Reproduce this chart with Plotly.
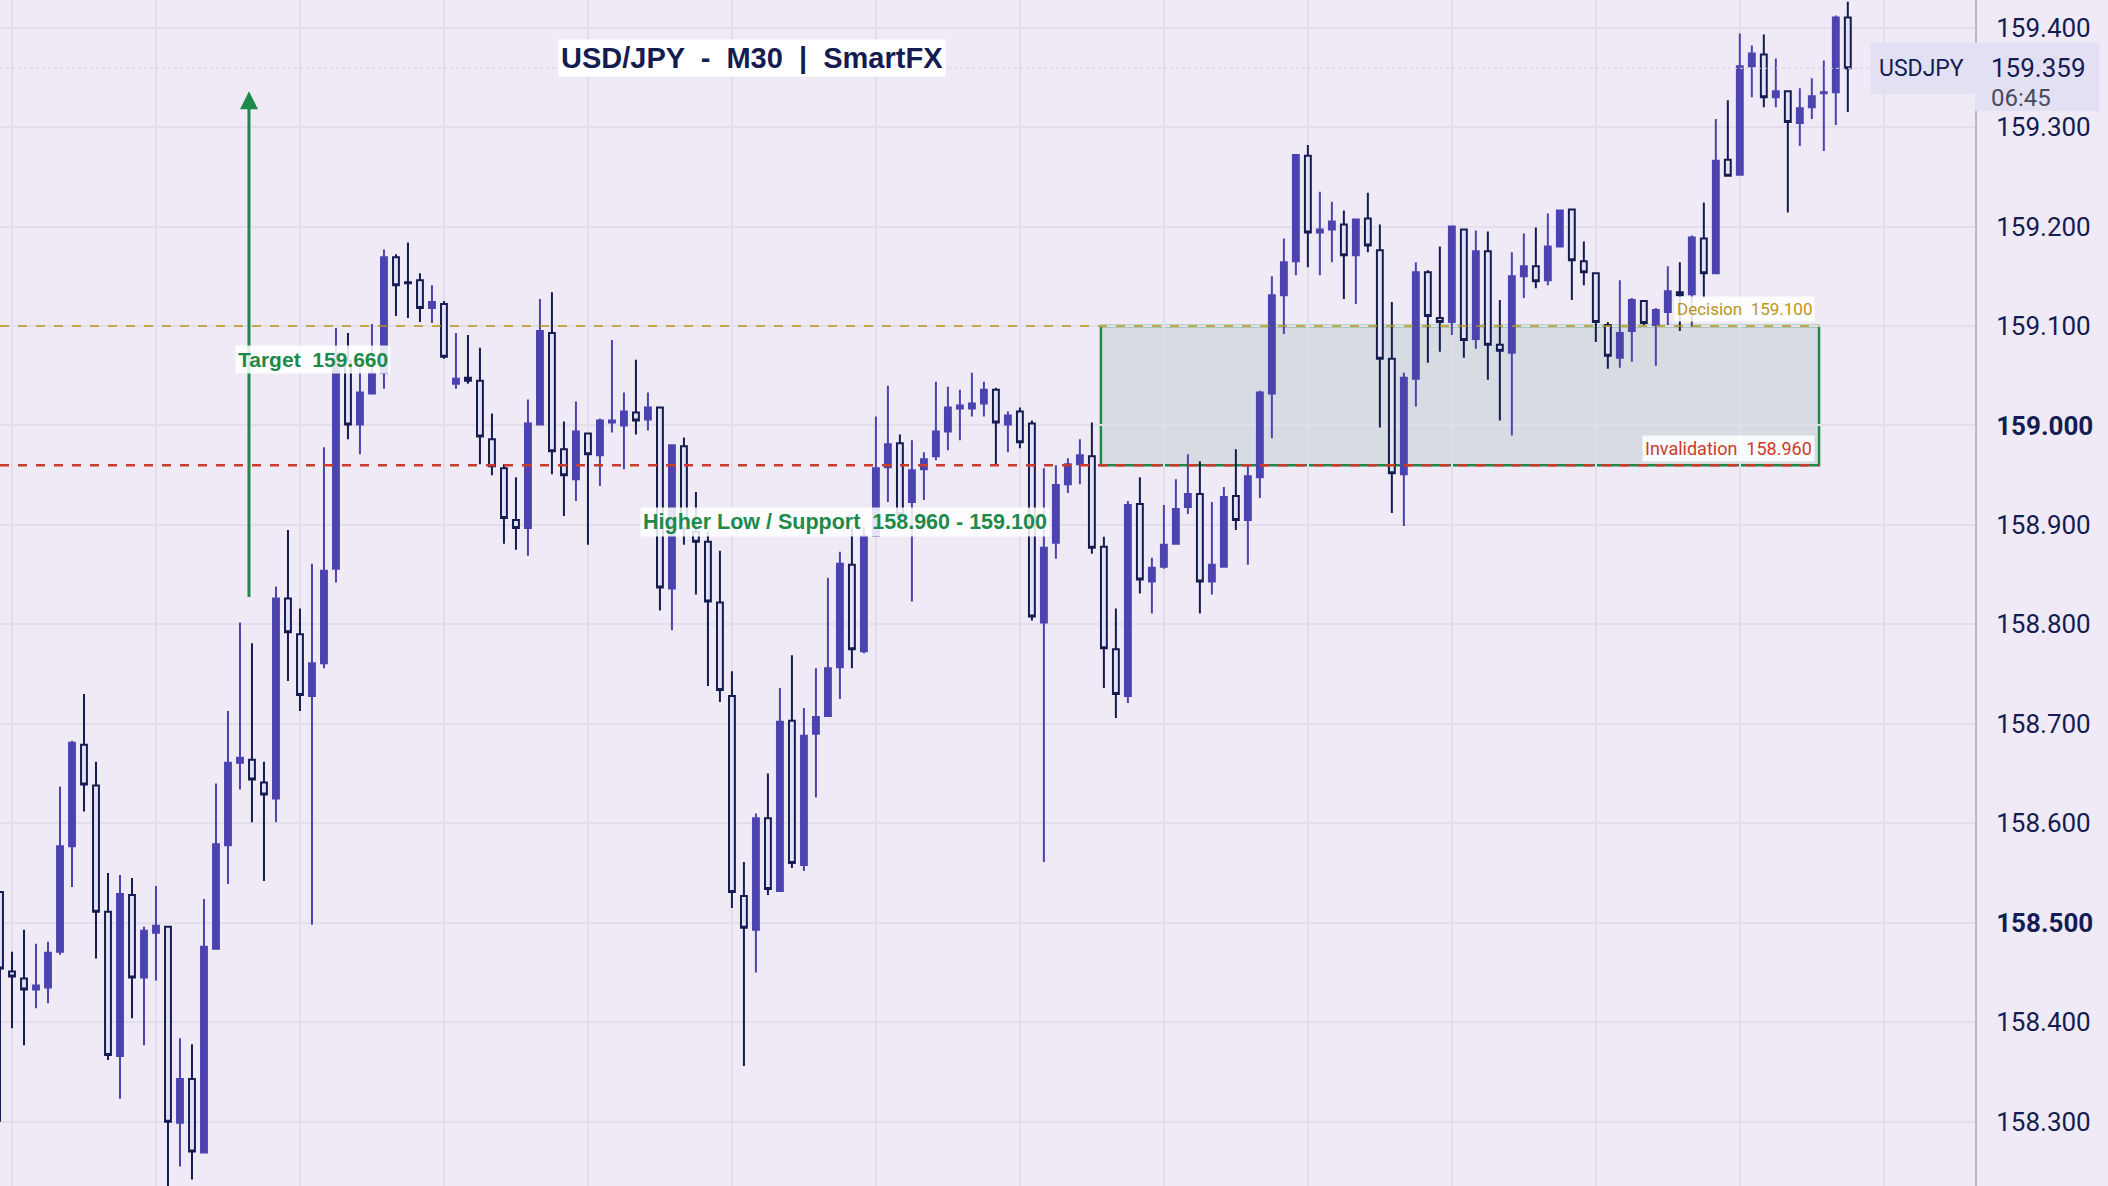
import plotly.graph_objects as go

# USD/JPY M30 candles (oldest first)
opens = [158.531, 158.451, 158.444, 158.433, 158.435, 158.471, 158.577, 158.679, 158.638, 158.511,
         158.366, 158.528, 158.445, 158.490, 158.496, 158.299, 158.343, 158.269, 158.474, 158.578,
         158.661, 158.664, 158.641, 158.625, 158.826, 158.790, 158.728, 158.761, 158.856, 159.065,
         159.001, 159.032, 159.053, 159.169, 159.144, 159.146, 159.118, 159.122, 159.042, 159.048,
         159.045, 158.986, 158.957, 158.905, 158.897, 159.001, 159.093, 158.976, 158.946, 158.992,
         158.970, 159.003, 159.000, 159.013, 159.006, 159.018, 158.836, 158.979, 158.893, 158.883,
         158.822, 158.728, 158.527, 158.493, 158.605, 158.532, 158.703, 158.558, 158.690, 158.708,
         158.757, 158.860, 158.773, 158.889, 158.958, 158.982, 158.923, 158.956, 158.969, 158.994,
         159.017, 159.017, 159.022, 159.036, 159.001, 159.014, 159.002, 158.802, 158.882, 158.941,
         158.961, 158.969, 158.878, 158.775, 158.728, 158.921, 158.843, 158.858, 158.881, 158.918,
         158.931, 158.843, 158.858, 158.929, 158.905, 158.948, 159.032, 159.131, 159.165, 159.271,
         159.194, 159.197, 159.202, 159.171, 159.208, 159.176, 159.067, 158.951, 159.047, 159.154,
         159.108, 159.104, 159.197, 159.087, 159.175, 159.081, 159.073, 159.150, 159.160, 159.146,
         159.180, 159.217, 159.165, 159.153, 159.101, 159.068, 159.095, 159.125, 159.101, 159.114,
         159.134, 159.132, 159.188, 159.153, 159.267, 159.252, 159.361, 159.373, 159.330, 159.336,
         159.304, 159.320, 159.334, 159.335, 159.410]
highs = [158.531, 158.471, 158.493, 158.479, 158.481, 158.637, 158.683, 158.730, 158.662, 158.550,
         158.548, 158.545, 158.496, 158.537, 158.497, 158.384, 158.378, 158.524, 158.640, 158.713,
         158.802, 158.781, 158.662, 158.838, 158.895, 158.816, 158.861, 158.978, 159.098, 159.093,
         159.058, 159.102, 159.177, 159.172, 159.184, 159.153, 159.141, 159.125, 159.093, 159.091,
         159.078, 159.012, 158.961, 158.948, 159.026, 159.127, 159.134, 159.004, 159.024, 158.992,
         159.007, 159.086, 159.033, 159.066, 159.033, 159.019, 158.981, 158.988, 158.933, 158.893,
         158.874, 158.753, 158.561, 158.610, 158.650, 158.736, 158.769, 158.716, 158.756, 158.847,
         158.873, 158.898, 158.898, 159.009, 159.040, 158.991, 158.985, 158.973, 159.044, 159.039,
         159.036, 159.053, 159.044, 159.038, 159.014, 159.018, 159.005, 158.957, 158.960, 158.967,
         158.986, 159.003, 158.888, 158.816, 158.924, 158.948, 158.867, 158.920, 158.946, 158.971,
         158.964, 158.923, 158.938, 158.976, 158.961, 159.035, 159.150, 159.188, 159.272, 159.282,
         159.235, 159.225, 159.216, 159.207, 159.234, 159.202, 159.124, 159.053, 159.164, 159.156,
         159.180, 159.201, 159.197, 159.196, 159.195, 159.126, 159.174, 159.193, 159.199, 159.213,
         159.217, 159.217, 159.185, 159.153, 159.104, 159.146, 159.128, 159.125, 159.118, 159.160,
         159.164, 159.191, 159.224, 159.308, 159.327, 159.394, 159.382, 159.393, 159.369, 159.337,
         159.339, 159.349, 159.367, 159.412, 159.426]
lows = [158.300, 158.394, 158.377, 158.414, 158.419, 158.468, 158.536, 158.612, 158.464, 158.362,
        158.323, 158.404, 158.377, 158.442, 158.230, 158.255, 158.242, 158.269, 158.474, 158.539,
        158.634, 158.601, 158.542, 158.601, 158.743, 158.713, 158.498, 158.756, 158.842, 158.986,
        158.971, 159.032, 159.037, 159.110, 159.108, 159.104, 159.103, 159.067, 159.037, 159.042,
        158.961, 158.950, 158.881, 158.875, 158.869, 159.001, 158.951, 158.909, 158.924, 158.880,
        158.939, 158.993, 158.956, 158.991, 158.995, 158.814, 158.794, 158.880, 158.830, 158.738,
        158.722, 158.515, 158.356, 158.450, 158.528, 158.532, 158.555, 158.552, 158.626, 158.708,
        158.725, 158.756, 158.771, 158.889, 158.923, 158.911, 158.823, 158.925, 158.965, 158.975,
        158.985, 159.009, 159.009, 158.961, 158.973, 158.977, 158.804, 158.561, 158.866, 158.932,
        158.941, 158.871, 158.736, 158.706, 158.721, 158.831, 158.811, 158.856, 158.881, 158.911,
        158.811, 158.830, 158.858, 158.895, 158.860, 158.927, 158.987, 159.092, 159.151, 159.159,
        159.151, 159.164, 159.127, 159.122, 159.174, 158.998, 158.912, 158.899, 159.019, 159.063,
        159.074, 159.091, 159.068, 159.077, 159.046, 159.005, 158.990, 159.128, 159.138, 159.141,
        159.180, 159.126, 159.141, 159.084, 159.057, 159.058, 159.064, 159.101, 159.060, 159.101,
        159.095, 159.099, 159.128, 159.153, 159.250, 159.252, 159.330, 159.320, 159.320, 159.214,
        159.281, 159.308, 159.276, 159.302, 159.315]
closes = [158.454, 158.446, 158.433, 158.437, 158.470, 158.577, 158.681, 158.639, 158.511, 158.367,
          158.529, 158.445, 158.492, 158.497, 158.300, 158.343, 158.270, 158.476, 158.579, 158.661,
          158.666, 158.644, 158.629, 158.826, 158.792, 158.729, 158.761, 158.854, 159.072, 159.001,
          159.033, 159.053, 159.169, 159.141, 159.143, 159.118, 159.124, 159.069, 159.047, 159.045,
          158.989, 158.959, 158.907, 158.897, 159.002, 159.095, 158.974, 158.950, 158.994, 158.971,
          159.005, 159.005, 159.014, 159.005, 159.018, 158.837, 158.980, 158.896, 158.883, 158.823,
          158.734, 158.531, 158.495, 158.605, 158.534, 158.702, 158.560, 158.688, 158.707, 158.756,
          158.861, 158.775, 158.889, 158.957, 158.981, 158.911, 158.955, 158.966, 158.994, 159.018,
          159.020, 159.022, 159.036, 159.003, 159.010, 158.983, 158.808, 158.877, 158.940, 158.961,
          158.970, 158.877, 158.776, 158.730, 158.920, 158.845, 158.857, 158.880, 158.916, 158.931,
          158.843, 158.860, 158.928, 158.905, 158.949, 159.033, 159.131, 159.164, 159.272, 159.194,
          159.197, 159.205, 159.171, 159.207, 159.181, 159.067, 158.952, 159.048, 159.154, 159.110,
          159.104, 159.200, 159.086, 159.175, 159.081, 159.075, 159.150, 159.160, 159.145, 159.180,
          159.216, 159.166, 159.154, 159.104, 159.070, 159.093, 159.126, 159.103, 159.116, 159.135,
          159.131, 159.189, 159.153, 159.266, 159.251, 159.361, 159.374, 159.330, 159.336, 159.305,
          159.319, 159.331, 159.335, 159.410, 159.359]
bars = list(range(len(opens)))

decision = 159.100
invalidation = 158.960
target = 159.660
last_price = 159.359
countdown = "06:45"

tick_vals = [158.3, 158.4, 158.5, 158.6, 158.7, 158.8, 158.9, 159.0, 159.1, 159.2, 159.3, 159.4]
tick_text = ["158.300", "158.400", "<b>158.500</b>", "158.600", "158.700", "158.800", "158.900",
             "<b>159.000</b>", "159.100", "159.200", "159.300", "159.400"]

bg = "#efeaf5"
grid = "#e2deea"
navy = "#141c52"
purple = "#4b43b0"
green = "#1e8a4a"
gold = "#b8961a"
red = "#cc3a2b"

zone_x0, zone_x1 = 91.75, 151.6
arrow_x = 20.75

fig = go.Figure()
fig.add_trace(go.Candlestick(
    x=bars, open=opens, high=highs, low=lows, close=closes,
    increasing=dict(line=dict(color=purple, width=2), fillcolor=purple),
    decreasing=dict(line=dict(color=navy, width=2), fillcolor="#e4e2f6"),
    whiskerwidth=0, showlegend=False, hoverinfo="skip",
))

# zone and levels
fig.add_shape(type="rect", x0=zone_x0, x1=zone_x1, y0=invalidation, y1=decision,
              fillcolor="rgba(30,120,90,0.12)", line=dict(color=green, width=2.5), layer="below")
fig.add_shape(type="line", x0=0, x1=zone_x1, y0=decision, y1=decision,
              line=dict(color=gold, width=1.5, dash="dash"))
fig.add_shape(type="line", x0=0, x1=zone_x1, y0=invalidation, y1=invalidation,
              line=dict(color=red, width=2.5, dash="dash"))
fig.add_shape(type="line", x0=0, x1=165, y0=last_price, y1=last_price,
              line=dict(color="#d6d0e4", width=1, dash="dot"))

# target arrow
fig.add_annotation(x=arrow_x, y=159.336, ax=arrow_x, ay=158.826, xref="x", yref="y",
                   axref="x", ayref="y", showarrow=True, arrowhead=2, arrowsize=1.2,
                   arrowwidth=3, arrowcolor=green, text="")

lbl = dict(showarrow=False, bgcolor="rgba(255,255,255,0.85)", borderpad=2, yanchor="middle")
fig.add_annotation(x=arrow_x - 1.2, y=159.066, xanchor="left", text="<b>Target  %.3f</b>" % target,
                   font=dict(family="Liberation Sans", size=21, color=green), **lbl)
fig.add_annotation(x=53.3, y=158.903, xanchor="left",
                   text="<b>Higher Low / Support  %.3f - %.3f</b>" % (invalidation, decision),
                   font=dict(family="Liberation Sans", size=21.5, color=green), **lbl)
fig.add_annotation(x=zone_x1 - 0.3, y=159.117, xanchor="right", text="Decision  %.3f" % decision,
                   font=dict(family="Roboto", size=17, color=gold), **lbl)
fig.add_annotation(x=zone_x1 - 0.3, y=158.977, xanchor="right", text="Invalidation  %.3f" % invalidation,
                   font=dict(family="Roboto", size=18, color=red), **lbl)
fig.add_annotation(x=0.381, y=0.951, xref="paper", yref="paper", xanchor="center", yanchor="middle",
                   text="<b>USD/JPY  -  M30  |  SmartFX</b>",
                   font=dict(family="Liberation Sans", size=29, color=navy),
                   showarrow=False, bgcolor="white", borderpad=2)

# last price tag
fig.add_shape(type="rect", xref="paper", yref="y", x0=0.947, x1=1.0, y0=159.333, y1=159.385,
              fillcolor="#e4e0f4", line=dict(width=0))
fig.add_shape(type="rect", xref="paper", yref="y", x0=1.0, x1=1.063, y0=159.316, y1=159.385,
              fillcolor="#e4e0f4", line=dict(width=0))
fig.add_annotation(x=0.973, y=last_price, xref="paper", yref="y", xanchor="center", yanchor="middle",
                   text="USDJPY", showarrow=False,
                   font=dict(family="Roboto", size=23, color=navy))
fig.add_annotation(x=1.007, y=last_price, xref="paper", yref="y", xanchor="left", yanchor="middle",
                   text="%.3f" % last_price, showarrow=False,
                   font=dict(family="Roboto", size=26, color=navy), bgcolor="#e4e0f4")
fig.add_annotation(x=1.007, y=159.329, xref="paper", yref="y", xanchor="left", yanchor="middle",
                   text=countdown, showarrow=False,
                   font=dict(family="Roboto", size=24, color="#4a4a5a"))

fig.update_layout(
    width=2108, height=1186,
    margin=dict(l=0, r=133, t=0, b=0),
    paper_bgcolor=bg, plot_bgcolor=bg,
    xaxis=dict(range=[0, 164.6], rangeslider=dict(visible=False), showticklabels=False,
               tickvals=list(range(1, 170, 12)), showgrid=True, gridcolor=grid, gridwidth=2,
               zeroline=False, fixedrange=True),
    yaxis=dict(range=[158.2354, 159.4277], side="right", tickvals=tick_vals, ticktext=tick_text,
               showgrid=True, gridcolor=grid, gridwidth=2, zeroline=False, ticks="",
               showline=True, linecolor="#bdb8c8", linewidth=2, ticklabelstandoff=14,
               tickfont=dict(family="Roboto", size=26, color=navy)),
)

fig.write_html("out.html", config={"displayModeBar": False},
               post_script="document.body.style.margin='0px';")
